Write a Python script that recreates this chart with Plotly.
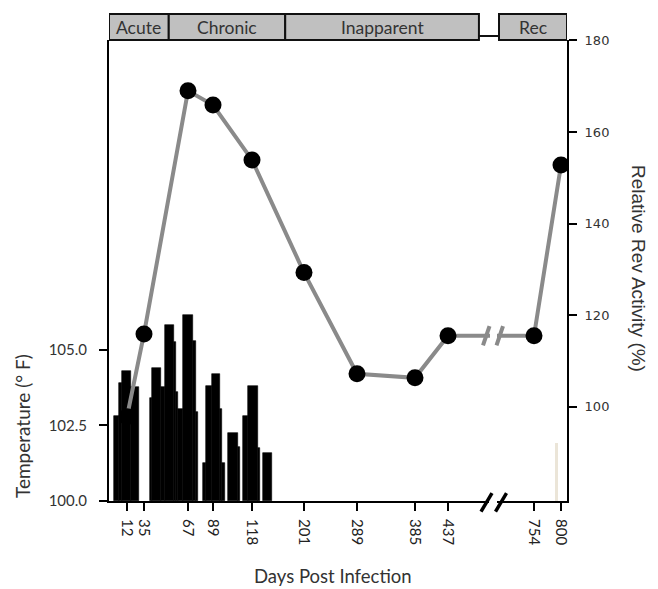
import numpy as np
import plotly.graph_objects as go

# Irregular horizontal scale of the original figure: day -> axis position
scale_days = [0, 12, 35, 67, 89, 118, 201, 289, 385, 437, 754, 800]
scale_pos = [114, 127, 144, 188, 213, 252, 304, 357, 415, 448, 534, 561]

tick_days = [12, 35, 67, 89, 118, 201, 289, 385, 437, 754, 800]

# Relative Rev activity (%)
rev_days = [12, 35, 67, 89, 118, 201, 289, 385, 437, 754, 800]
rev_activity = [97.8, 115.9, 169.0, 165.9, 153.9, 129.3, 107.2, 106.3, 115.5, 115.5, 152.8]

# Temperature (deg F) readings, each over a span of days
temp_start_day = [0, 5, 7, 17, 39.5, 40.5, 47, 50.5, 56.5, 58.5, 60, 63.5, 71, 74,
                  80.5, 82.5, 88, 94, 96, 100.5, 107.5, 111.5, 115, 127, 136]
temp_end_day = [5, 7, 17, 28.5, 40.5, 47, 50.5, 56.5, 58.5, 60, 63.5, 71, 74, 75.5,
                82.5, 88, 94, 96, 98, 107.5, 109, 115, 127, 131, 149.5]
temp_f = [102.8, 103.9, 104.3, 103.75, 103.4, 104.4, 103.75, 105.8, 105.25, 103.6,
          103.05, 106.15, 105.3, 102.95, 101.25, 103.8, 104.2, 103.05, 101.25,
          102.25, 101.8, 102.8, 103.8, 101.75, 101.6]

late_start_day = [790]
late_end_day = [795]
late_temp_f = [101.9]

phases = ["Acute", "Chronic", "Inapparent", "Rec"]
phase_start_day = [None, 53, 171, 625]
phase_end_day = [53, 171, 551, None]

X_MIN, X_MAX = 109, 567


def pos(d):
    return np.interp(np.asarray(d, dtype=float), scale_days, scale_pos)


def bar_geom(s, e):
    s_p, e_p = pos(s), pos(e)
    return (s_p + e_p) / 2, e_p - s_p


def px_x(p):  # window pixel x -> paper x
    return (p - X_MIN) / (X_MAX - X_MIN)


def px_y(p):  # window pixel y -> paper y
    return (501 - p) / 461


fig = go.Figure()

bx, bw = bar_geom(temp_start_day, temp_end_day)
fig.add_trace(go.Bar(x=bx, y=np.array(temp_f) - 100, base=100, width=bw,
                     marker=dict(color="black", line=dict(color="black", width=0.6)),
                     yaxis="y", xaxis="x", showlegend=False))

lx, lw = bar_geom(late_start_day, late_end_day)
fig.add_trace(go.Bar(x=lx, y=np.array(late_temp_f) - 100, base=100, width=lw,
                     marker=dict(color="#ebe5d8", line=dict(width=0)),
                     yaxis="y", xaxis="x", showlegend=False))

fig.add_trace(go.Scatter(x=pos(rev_days), y=rev_activity, mode="lines+markers",
                         line=dict(color="#8a8a8a", width=4),
                         marker=dict(color="black", size=17),
                         yaxis="y2", xaxis="x", showlegend=False))

shapes = []
top0, top1 = 1.0, 1 + 26 / 461
for name, s, e in zip(phases, phase_start_day, phase_end_day):
    x0 = X_MIN if s is None else float(pos(s))
    x1 = X_MAX if e is None else float(pos(e))
    shapes.append(dict(type="rect", xref="x", yref="paper", x0=x0, x1=x1, y0=top0, y1=top1,
                       fillcolor="#c0c0c0", line=dict(color="#111", width=2), layer="above"))
conn_y = 1 + 4 / 461
shapes.append(dict(type="line", xref="x", yref="paper", x0=float(pos(phase_end_day[2])),
                   x1=float(pos(phase_start_day[3])), y0=conn_y, y1=conn_y,
                   line=dict(color="#111", width=2)))
shapes.append(dict(type="line", xref="x", yref="paper", x0=X_MAX, x1=X_MAX + 13,
                   y0=conn_y, y1=conn_y, line=dict(color="#111", width=2)))
shapes.append(dict(type="line", xref="x", yref="paper", x0=X_MAX, x1=X_MAX + 8,
                   y0=0, y1=0, line=dict(color="#111", width=2)))

# axis break on x axis
shapes.append(dict(type="rect", xref="x", yref="paper", x0=489, x1=497, y0=-0.008, y1=0.008,
                   fillcolor="white", line=dict(width=0), layer="above"))
for xa, xb in [(481, 492), (495.5, 506.5)]:
    shapes.append(dict(type="line", xref="x", yref="paper", x0=xa, x1=xb,
                       y0=-0.023, y1=0.017, line=dict(color="black", width=3.5), layer="above"))

# break on the Rev line
shapes.append(dict(type="rect", xref="x", yref="y2", x0=490, x1=497, y0=113.6, y1=117.4,
                   fillcolor="white", line=dict(width=0), layer="above"))
for xa, xb in [(483, 489.5), (496.5, 503)]:
    shapes.append(dict(type="line", xref="x", yref="y2", x0=xa, x1=xb,
                       y0=113.4, y1=117.6, line=dict(color="#8a8a8a", width=4), layer="above"))

annotations = []
for name, s, e in zip(phases, phase_start_day, phase_end_day):
    x0 = X_MIN if s is None else float(pos(s))
    x1 = X_MAX if e is None else float(pos(e))
    annotations.append(dict(text=name, x=(x0 + x1) / 2, xref="x", y=(top0 + top1) / 2,
                            yref="paper", showarrow=False, xanchor="center", yanchor="middle",
                            font=dict(family="Lato", size=17.5, color="#333")))

annotations.append(dict(text="Temperature (° F)", x=px_x(22), xref="paper", xanchor="center",
                        y=px_y(426), yref="paper", yanchor="middle", textangle=-90,
                        showarrow=False, font=dict(family="Lato", size=19, color="#333")))
annotations.append(dict(text="Relative Rev Activity (%)", x=px_x(639),
                        xref="paper", xanchor="center", y=px_y(268), yref="paper",
                        yanchor="middle", textangle=90, showarrow=False,
                        font=dict(family="Liberation Sans", size=19, color="#333")))
annotations.append(dict(text="Days Post Infection", x=px_x(333),
                        xref="paper", xanchor="center", y=px_y(576), yref="paper",
                        yanchor="middle", showarrow=False,
                        font=dict(family="Lato", size=18.5, color="#333")))

fig.update_layout(
    width=650, height=581,
    margin=dict(l=101, r=91, t=32, b=88, pad=0),
    plot_bgcolor="white", paper_bgcolor="white",
    barmode="overlay", bargap=0,
    showlegend=False,
    shapes=shapes, annotations=annotations,
    xaxis=dict(range=[X_MIN, X_MAX], tickvals=list(pos(tick_days)),
               ticktext=[str(d) for d in tick_days], tickangle=90,
               ticks="outside", ticklen=8, tickwidth=2, tickcolor="black",
               ticklabelstandoff=5,
               showline=True, linewidth=2, linecolor="black",
               showgrid=False, zeroline=False,
               tickfont=dict(family="Lato", size=15, color="#222")),
    yaxis=dict(range=[100, 115.23], tickvals=[100, 102.5, 105],
               ticktext=["100.0", "102.5", "105.0"],
               ticks="outside", ticklen=8, tickwidth=2, tickcolor="black",
               ticklabelstandoff=9,
               showline=True, linewidth=2, linecolor="black",
               showgrid=False, zeroline=False,
               tickfont=dict(family="Lato", size=15, color="#333")),
    yaxis2=dict(range=[79.4, 180.1], overlaying="y", side="right", anchor="x",
                tickvals=[100, 120, 140, 160, 180],
                ticks="outside", ticklen=8, tickwidth=2, tickcolor="black",
                ticklabelstandoff=5,
                showline=True, linewidth=2, linecolor="black",
                showgrid=False, zeroline=False,
                tickfont=dict(family="DejaVu Sans", size=13, color="#333")),
)

fig.write_html("out.html")
